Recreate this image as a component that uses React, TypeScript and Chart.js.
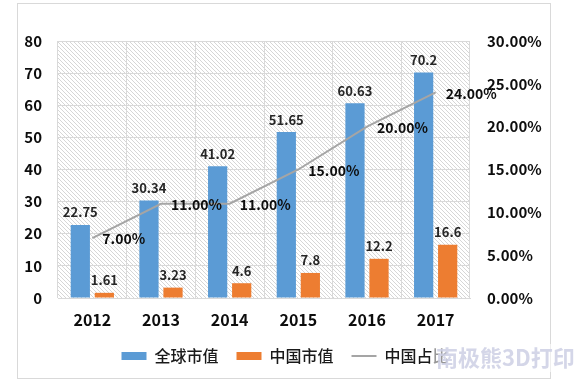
import React, { useEffect, useRef } from "react";
import { Chart, registerables } from "chart.js";

Chart.register(...registerables);

const years = ["2012", "2013", "2014", "2015", "2016", "2017"];
const globalValues = [22.75, 30.34, 41.02, 51.65, 60.63, 70.2];
const chinaValues = [1.61, 3.23, 4.6, 7.8, 12.2, 16.6];
const chinaShare = [0.07, 0.11, 0.11, 0.15, 0.2, 0.24];
const seriesNames = ["全球市值", "中国市值", "中国占比"];
const leftAxisMax = 80;
const leftAxisStep = 10;
const rightAxisMax = 0.3;
const rightAxisStep = 0.05;
const watermarkText = "南极熊3D打印";

const FONT = '"Noto Sans CJK SC", "Noto Sans", sans-serif';
const pct = (v: number) => (v * 100).toFixed(2) + "%";

const decorPlugin = {
  id: "decor",
  beforeDraw(chart: any) {
    const { ctx, chartArea: a } = chart;
    ctx.save();
    ctx.fillStyle = "#ffffff";
    ctx.fillRect(0, 0, chart.width, chart.height);
    ctx.strokeStyle = "#d9d9d9";
    ctx.lineWidth = 1;
    ctx.strokeRect(17.5, 3.5, 533, 375);
    const tile = document.createElement("canvas");
    tile.width = 4;
    tile.height = 4;
    const t = tile.getContext("2d")!;
    t.strokeStyle = "#d6d6d6";
    t.lineWidth = 1;
    t.beginPath();
    t.moveTo(-1, -1);
    t.lineTo(5, 5);
    t.moveTo(-1, 3);
    t.lineTo(1, 5);
    t.moveTo(3, -1);
    t.lineTo(5, 1);
    t.stroke();
    const pat = ctx.createPattern(tile, "repeat");
    if (pat) {
      ctx.fillStyle = pat;
      ctx.fillRect(a.left, a.top, a.right - a.left, a.bottom - a.top);
    }
    ctx.restore();
  },
  afterDatasetsDraw(chart: any) {
    const { ctx } = chart;
    ctx.save();
    const barSets = [globalValues, chinaValues];
    barSets.forEach((vals, di) => {
      const meta = chart.getDatasetMeta(di);
      ctx.font = `bold 13px ${FONT}`;
      ctx.fillStyle = "#262626";
      ctx.textAlign = "center";
      ctx.textBaseline = "bottom";
      meta.data.forEach((el: any, i: number) => {
        ctx.fillText(String(vals[i]), el.x, el.y - 6);
      });
    });
    const lm = chart.getDatasetMeta(2);
    ctx.font = `bold 14px ${FONT}`;
    ctx.fillStyle = "#0d0d0d";
    ctx.textAlign = "left";
    ctx.textBaseline = "middle";
    lm.data.forEach((el: any, i: number) => {
      ctx.fillText(pct(chinaShare[i]), el.x + 10, el.y + 1);
    });
    ctx.restore();
  },
  afterDraw(chart: any) {
    const { ctx } = chart;
    ctx.save();
    ctx.font = `bold 22px ${FONT}`;
    const w = ctx.measureText(watermarkText).width;
    ctx.fillStyle = "rgba(255,255,255,0.55)";
    ctx.fillRect(434, 344, w + 4, 28);
    ctx.fillStyle = "rgba(205,207,228,0.85)";
    ctx.textAlign = "left";
    ctx.textBaseline = "middle";
    ctx.fillText(watermarkText, 436, 358);
    ctx.restore();
  },
};

export default function App() {
  const ref = useRef<HTMLCanvasElement | null>(null);
  useEffect(() => {
    if (!ref.current) return;
    const chart = new Chart(ref.current, {
      type: "bar",
      data: {
        labels: years,
        datasets: [
          {
            type: "bar",
            label: seriesNames[0],
            data: globalValues,
            backgroundColor: "#5b9bd5",
            yAxisID: "y",
            order: 1,
            categoryPercentage: 0.7,
            barPercentage: 0.8,
          },
          {
            type: "bar",
            label: seriesNames[1],
            data: chinaValues,
            backgroundColor: "#ed7d31",
            yAxisID: "y",
            order: 1,
            categoryPercentage: 0.7,
            barPercentage: 0.8,
          },
          {
            type: "line",
            label: seriesNames[2],
            data: chinaShare,
            borderColor: "#a5a5a5",
            backgroundColor: "#a5a5a5",
            borderWidth: 2,
            pointRadius: 0,
            tension: 0,
            yAxisID: "y1",
            order: 0,
          } as any,
        ],
      },
      options: {
        responsive: false,
        animation: false,
        layout: { padding: { top: 41, left: 0, right: 16, bottom: 14 } },
        plugins: {
          tooltip: { enabled: false },
          legend: {
            position: "bottom",
            labels: {
              usePointStyle: true,
              pointStyleWidth: 25,
              boxHeight: 8,
              padding: 18,
              color: "#1a1a1a",
              font: { family: FONT, size: 16, weight: 500 },
              sort: (a: any, b: any) => a.datasetIndex - b.datasetIndex,
              generateLabels: (c: any) => {
                const items = (Chart.defaults.plugins.legend.labels as any).generateLabels(c);
                items.forEach((it: any) => {
                  it.pointStyle = it.datasetIndex === 2 ? "line" : "rect";
                  if (it.datasetIndex === 2) {
                    it.lineWidth = 2;
                    it.strokeStyle = "#a5a5a5";
                  } else {
                    it.lineWidth = 0;
                  }
                });
                return items;
              },
            },
          },
        },
        scales: {
          x: {
            grid: { color: "#d9d9d9", drawTicks: false, offset: true },
            border: { color: "#d9d9d9" },
            ticks: {
              color: "#0d0d0d",
              padding: 12,
              font: { family: FONT, size: 16, weight: "bold" },
            },
            afterFit: (s: any) => {
              s.height = 32;
            },
          },
          y: {
            position: "left",
            min: 0,
            max: leftAxisMax,
            grid: { color: "#d9d9d9", drawTicks: false },
            border: { display: false },
            ticks: {
              stepSize: leftAxisStep,
              color: "#0d0d0d",
              padding: 16,
              font: { family: FONT, size: 15, weight: "bold" },
            },
            afterFit: (s: any) => {
              s.width = 58;
            },
          },
          y1: {
            position: "right",
            min: 0,
            max: rightAxisMax,
            grid: { drawOnChartArea: false, drawTicks: false },
            border: { display: false },
            ticks: {
              stepSize: rightAxisStep,
              color: "#0d0d0d",
              padding: 17,
              font: { family: FONT, size: 15, weight: "bold" },
              callback: (v: any) => pct(Number(v)),
            },
            afterFit: (s: any) => {
              s.width = 100;
            },
          },
        },
      },
      plugins: [decorPlugin],
    });
    return () => chart.destroy();
  }, []);
  return (
    <div style={{ position: "absolute", left: 0, top: 0, width: 586, height: 388, background: "#fff" }}>
      <canvas ref={ref} width={586} height={388} style={{ display: "block" }} />
    </div>
  );
}
